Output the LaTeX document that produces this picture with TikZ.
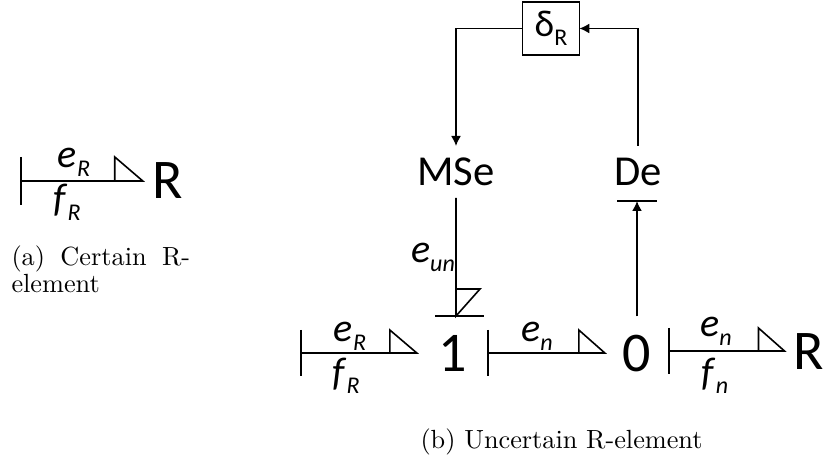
\documentclass[tikz,border=0pt]{standalone}
\usepackage{fontspec}
\usepackage{xcolor}
\setsansfont{Carlito}
\usetikzlibrary{arrows.meta,positioning}

\newcommand{\bvar}[2]{\textit{#1}\raisebox{-6.5pt}{\fontsize{18}{18}\selectfont\textit{#2}}}

\begin{document}
\begin{tikzpicture}[
    x=0.75pt, y=-0.75pt,
    font=\sffamily,
    bigelem/.style={font=\sffamily\fontsize{42}{42}\selectfont, inner ysep=0pt, inner xsep=7.5pt, outer sep=0pt, text height=27pt, text depth=0pt},
    smallelem/.style={font=\sffamily\fontsize{32}{32}\selectfont, inner sep=0pt, outer sep=0pt, minimum height=39pt, minimum width=57pt},
    bondvar/.style={font=\sffamily\fontsize{30}{30}\selectfont, inner sep=0pt, anchor=base},
    deltabox/.style={draw, line width=1.2pt, font=\sffamily\fontsize{28}{28}\selectfont, inner sep=0pt, outer sep=0pt, minimum width=42.5pt, minimum height=39.5pt},
    captext/.style={font=\rmfamily, scale=1.97, anchor=base west, inner sep=0pt, align=left},
    bond/.style={line width=1.2pt, line join=miter},
    signal/.style={-{Latex[length=7.5pt,width=7.5pt]}, line width=1.2pt}
]
    \useasboundingbox (0,0) rectangle (824,459);

    % certain R-element
    \coordinate (barA) at (21,181);
    \node[bigelem] (rA) at (168,181) {R};
    \node[bondvar] (eA) at (74,168) {\bvar{e}{R}};
    \node[bondvar] (fA) at (67,212) {\bvar{f}{R}};
    \node[captext] (capA) at (11,293) {\makebox[68pt][s]{(a) Certain R-}\\[-1.5pt]element};

    \draw[bond] (barA) ++(0,-24) -- ++(0,48);
    \draw[bond] (barA) -- (rA.west) -- ++(-28,-24) -- ++(0,24);

    % uncertain R-element
    \coordinate (barB) at (301,353);
    \node[bigelem, inner xsep=16.5pt] (one) at (453,353) {1};
    \coordinate (barC) at (488,353);
    \node[bigelem, inner xsep=13.5pt] (zero) at (637,353) {0};
    \coordinate (barD) at (669,351);
    \node[bigelem, inner xsep=7pt] (rB) at (809,351) {R};

    \node[smallelem] (mse) at (456,172) {MSe};
    \node[smallelem] (de) at (638,172) {De};
    \node[deltabox] (delta) at (551,28.5) {δ\raisebox{-0.25em}{\fontsize{18}{18}\selectfont R}};

    \node[bondvar] (eB) at (350,342) {\bvar{e}{R}};
    \node[bondvar] (fB) at (346,385) {\bvar{f}{R}};
    \node[bondvar] (eC) at (537,342) {\bvar{e}{n}};
    \node[bondvar] (eD) at (716,337) {\bvar{e}{n}};
    \node[bondvar] (fD) at (715,385) {\bvar{f}{n}};
    \node[bondvar] (eU) at (433,263) {\bvar{e}{un}};
    \node[captext] (capB) at (420,448) {(b) Uncertain R-element};

    \draw[bond] (barB) ++(0,-23) -- ++(0,46);
    \draw[bond] (barB) -- (one.west) -- ++(-27,-23) -- ++(0,23);
    \draw[bond] (barC) ++(0,-23) -- ++(0,46);
    \draw[bond] (barC) -- (zero.west) -- ++(-26,-23) -- ++(0,23);
    \draw[bond] (barD) ++(0,-23) -- ++(0,46);
    \draw[bond] (barD) -- (rB.west) -- ++(-26,-23) -- ++(0,23);

    % vertical bonds
    \coordinate (barE) at (456,316);
    \coordinate (barF) at (637,201);
    \draw[bond] (barE) ++(-21,0) -- ++(49,0);
    \draw[bond] (mse.south) -- (barE) -- ++(24,-27) -- ++(-24,0);
    \draw[bond] (barF) ++(-20,0) -- ++(40,0);
    \draw[signal] ([yshift=14pt]zero.north) -- (barF);

    % feedback
    \draw[signal] (delta.west) -| (mse.north);
    \draw[signal] (de.north) |- (delta.east);

\end{tikzpicture}
\end{document}
